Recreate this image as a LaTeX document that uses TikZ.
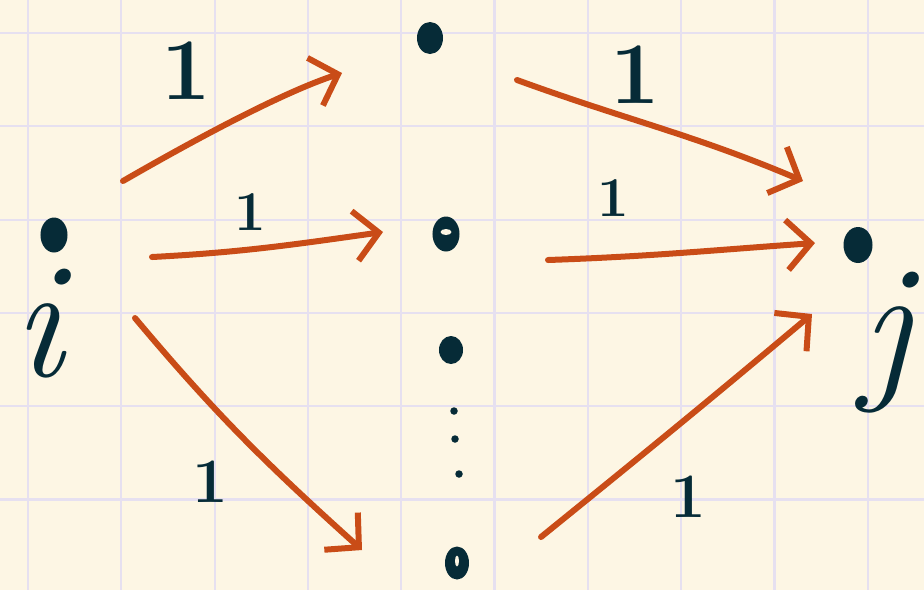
\documentclass[tikz,border=0pt]{standalone}
\usetikzlibrary{arrows.meta,shapes.geometric}
\definecolor{paper}{HTML}{FDF6E4}
\definecolor{gridc}{HTML}{E6E0F0}
\definecolor{rust}{HTML}{C94C17}
\definecolor{ink}{HTML}{062B37}

\begin{document}
\begin{tikzpicture}[
  x=0.01cm, y=-0.01cm,
  gridline/.style={gridc, line width=0.022cm},
  vx/.style={ellipse, fill=ink, inner sep=0pt,
             minimum width=0.27cm, minimum height=0.35cm},
  ringv/.style={vx, path picture={\fill[paper]
             ([yshift=0.02cm]path picture bounding box.center) ellipse (#1);}},
  dotm/.style={circle, fill=ink, inner sep=0pt, minimum size=0.075cm},
  flow/.style={draw=rust, line width=0.06cm, line cap=round, line join=round,
               -{Straight Barb[length=0.24cm, width=0.5cm]}},
  wt/.style={font=\fontsize{#1}{#1}\selectfont\bfseries, text=ink, inner sep=0pt},
  vlab/.style={font=\fontsize{47}{47}\selectfont\itshape, text=ink, inner sep=0pt},
  ]

% ---- Squared paper ---------------------------------------------------------
\fill[paper] (0,0) rectangle (924,590);
\useasboundingbox (0,0) rectangle (924,590);
\foreach \gx in {0,...,9}
  \draw[gridline] (28+93.3*\gx,0) -- (28+93.3*\gx,590);
\foreach \gy in {0,...,5}
  \draw[gridline] (0,33+93.3*\gy) -- (924,33+93.3*\gy);

% ---- Vertices --------------------------------------------------------------
\node[vx] (i) at (54,235) {};
\node[vx, minimum width=0.26cm, minimum height=0.32cm] (t) at (430,38) {};
\node[ringv=0.055cm and 0.03cm] (m) at (446,234) {};
\node[vx, minimum width=0.24cm, minimum height=0.28cm] (b) at (451,350) {};
\node[ringv=0.02cm and 0.055cm, minimum width=0.24cm, minimum height=0.33cm] (e) at (457,563) {};
\node[vx, minimum width=0.29cm, minimum height=0.36cm] (j) at (858,245) {};

% vertical dots
\foreach \k/\x/\y in {1/454/411, 2/455/439, 3/459/474}
  \node[dotm] (d\k) at (\x,\y) {};

\node[vlab] (li) at (38,324) {i};
\node[vlab] (lj) at (886,343) {j};

% ---- Arcs out of i ---------------------------------------------------------
\draw[flow] ([shift={(69,-54)}]i.center) to[out=30, in=198, looseness=0.7]
  ([shift={(-88,35)}]t.center);
\draw[flow] ([shift={(98,22)}]i.center) to[out=3, in=188]
  ([shift={(-63,-2)}]m.center);
\draw[flow] ([shift={(81,83)}]i.center) to[out=-50, in=138]
  ([shift={(-95,-13)}]e.center);

% ---- Arcs into j -----------------------------------------------------------
\draw[flow] ([shift={(87,42)}]t.center) to[out=-20, in=157]
  ([shift={(-55,-64)}]j.center);
\draw[flow] ([shift={(102,26)}]m.center) to[out=2, in=184]
  ([shift={(-43,-2)}]j.center);
\draw[flow] ([shift={(84,-26)}]e.center) to[out=39, in=220]
  ([shift={(-46,69)}]j.center);

% ---- Weights ---------------------------------------------------------------
\node[wt=25] (w1) at (186,71) {1};
\node[wt=16] (w2) at (250,212) {1};
\node[wt=18] (w3) at (210,482) {1};
\node[wt=25] (w4) at (635,75) {1};
\node[wt=16] (w5) at (613,198) {1};
\node[wt=18] (w6) at (688,497) {1};

\end{tikzpicture}
\end{document}
